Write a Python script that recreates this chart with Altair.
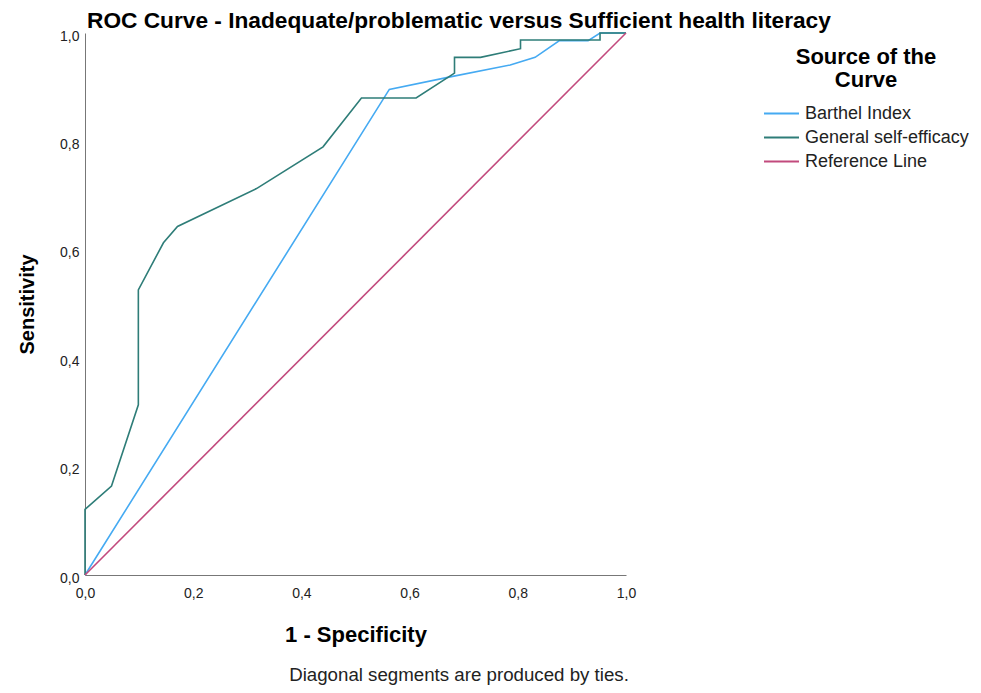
import altair as alt
import pandas as pd

# Data
barthel_x = [0.0, 0.5625, 0.675, 0.786, 0.832, 0.877, 0.930, 0.952, 1.0]
barthel_y = [0.0, 0.896, 0.919, 0.941, 0.955, 0.986, 0.986, 1.0, 1.0]

gse_x = [0.0, 0.0, 0.049, 0.0986, 0.0986, 0.145, 0.171, 0.317, 0.44, 0.511, 0.612,
         0.683, 0.683, 0.731, 0.805, 0.805, 0.952, 0.952, 1.0]
gse_y = [0.0, 0.121, 0.164, 0.314, 0.526, 0.613, 0.643, 0.713, 0.79, 0.880, 0.880,
         0.926, 0.955, 0.955, 0.971, 0.987, 0.987, 1.0, 1.0]

ref_x = [0.0, 1.0]
ref_y = [0.0, 1.0]

series_names = ["Barthel Index", "General self-efficacy", "Reference Line"]
series_colors = ["#45aaf2", "#2e7d78", "#c24a7d"]

rows = []
for name, xs, ys in zip(series_names, [barthel_x, gse_x, ref_x], [barthel_y, gse_y, ref_y]):
    for i, (a, b) in enumerate(zip(xs, ys)):
        rows.append({"source": name, "fpr": a, "tpr": b, "idx": i})
df = pd.DataFrame(rows)

label_expr = "replace(format(datum.value, '.1f'), '.', ',')"
FONT = "Liberation Sans"

lines = alt.Chart(df).mark_line(strokeWidth=1.6, clip=False).encode(
    x=alt.X("fpr:Q", scale=alt.Scale(domain=[0, 1], nice=False),
            axis=alt.Axis(title="1 - Specificity", values=[0, 0.2, 0.4, 0.6, 0.8, 1.0],
                          labelExpr=label_expr, grid=False, ticks=False,
                          labelFlush=False,
                          labelPadding=11, titlePadding=24, labelFontSize=14,
                          titleFontSize=22, titleFontWeight="bold",
                          labelColor="#222", titleColor="#000",
                          domainColor="#777", labelFont=FONT, titleFont=FONT)),
    y=alt.Y("tpr:Q", scale=alt.Scale(domain=[0, 1], nice=False),
            axis=alt.Axis(title="Sensitivity", values=[0, 0.2, 0.4, 0.6, 0.8, 1.0],
                          labelExpr=label_expr, grid=False, ticks=False,
                          labelFlush=False,
                          labelPadding=6, titlePadding=22, labelFontSize=14,
                          labelOffset=3,
                          titleFontSize=20, titleFontWeight="bold",
                          labelColor="#222", titleColor="#000",
                          domainColor="#777", labelFont=FONT, titleFont=FONT)),
    color=alt.Color("source:N",
                    scale=alt.Scale(domain=series_names, range=series_colors),
                    legend=alt.Legend(title=["Source of the", "Curve"],
                                      orient="none", legendX=678, legendY=14,
                                      titleFontSize=22, titleFontWeight="bold",
                                      titleFont=FONT, titleColor="#000",
                                      titleAlign="center", titleAnchor="middle",
                                      titleLineHeight=23, titlePadding=11,
                                      labelFont=FONT, labelFontSize=18, labelColor="#222",
                                      labelLimit=400, clipHeight=21,
                                      symbolType="stroke", symbolSize=1225,
                                      symbolStrokeWidth=2, rowPadding=3,
                                      labelOffset=5)),
    order="idx:Q",
    detail="source:N",
)

foot_df = pd.DataFrame({"t": ["Diagonal segments are produced by ties."]})
foot = alt.Chart(foot_df).mark_text(font=FONT, fontSize=18.7, color="#222",
                                    align="center", baseline="alphabetic").encode(
    text="t:N", x=alt.value(374), y=alt.value(648))

chart = alt.layer(lines, foot).properties(
    width=541, height=542,
    title=alt.TitleParams("ROC Curve - Inadequate/problematic versus Sufficient health literacy",
                          anchor="start", frame="group", dx=2, offset=-4,
                          fontSize=22.7, fontWeight="bold", font=FONT, color="#000"),
    autosize=alt.AutoSizeParams(type="none"),
    padding={"left": 77, "top": 25, "right": 347, "bottom": 110},
).configure_view(stroke=None)

chart.save("out.html", embed_options={"renderer": "svg", "actions": False})
